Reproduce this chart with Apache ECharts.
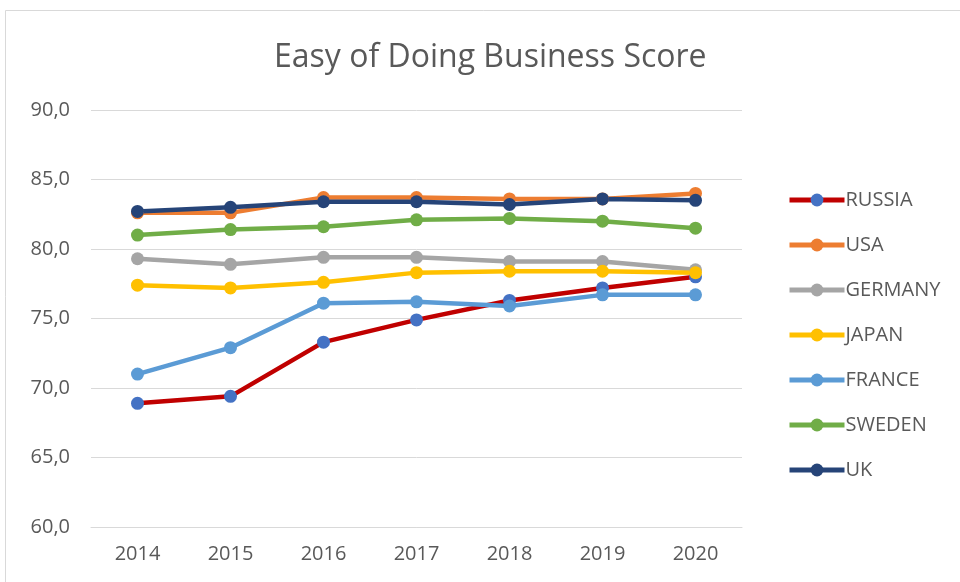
<!DOCTYPE html>
<html>
<head>
<meta charset="utf-8">
<script src="https://cdn.jsdelivr.net/npm/echarts@6/dist/echarts.min.js"></script>
<style>
html,body{margin:0;padding:0;background:#fff;}
#chart{width:960px;height:582px;}
</style>
</head>
<body>
<div id="chart"></div>
<script>
// Ease of Doing Business scores by country, 2014–2020
const years = ['2014', '2015', '2016', '2017', '2018', '2019', '2020'];
const russia  = [68.9, 69.4, 73.3, 74.9, 76.3, 77.2, 78.0];
const usa     = [82.6, 82.6, 83.7, 83.7, 83.6, 83.6, 84.0];
const germany = [79.3, 78.9, 79.4, 79.4, 79.1, 79.1, 78.5];
const japan   = [77.4, 77.2, 77.6, 78.3, 78.4, 78.4, 78.3];
const france  = [71.0, 72.9, 76.1, 76.2, 75.9, 76.7, 76.7];
const sweden  = [81.0, 81.4, 81.6, 82.1, 82.2, 82.0, 81.5];
const uk      = [82.7, 83.0, 83.4, 83.4, 83.2, 83.6, 83.5];

const seriesDefs = [
  { name: 'RUSSIA',  data: russia,  line: '#C00000', dot: '#4472C4' },
  { name: 'USA',     data: usa,     line: '#ED7D31', dot: '#ED7D31' },
  { name: 'GERMANY', data: germany, line: '#A5A5A5', dot: '#A5A5A5' },
  { name: 'JAPAN',   data: japan,   line: '#FFC000', dot: '#FFC000' },
  { name: 'FRANCE',  data: france,  line: '#5B9BD5', dot: '#5B9BD5' },
  { name: 'SWEDEN',  data: sweden,  line: '#70AD47', dot: '#70AD47' },
  { name: 'UK',      data: uk,      line: '#264478', dot: '#264478' }
];

const textColor = '#595959';
const font = 'Open Sans';

const chart = echarts.init(document.getElementById('chart'), null, { renderer: 'canvas' });
chart.setOption({
  backgroundColor: '#fff',
  animation: false,
  graphic: [{
    type: 'rect',
    shape: { x: 5.5, y: 10.5, width: 1000, height: 700 },
    style: { fill: 'none', stroke: '#D9D9D9', lineWidth: 1 },
    silent: true
  }],
  title: {
    text: 'Easy of Doing Business Score',
    left: 269, top: 37,
    textStyle: { color: textColor, fontFamily: font, fontWeight: 'normal', fontSize: 32 }
  },
  legend: {
    orient: 'vertical',
    left: 782, top: 185,
    itemWidth: 55, itemHeight: 16, itemGap: 25,
    lineStyle: { width: 5 },
    textStyle: { color: textColor, fontFamily: font, fontSize: 20, lineHeight: 20, padding: [0, 0, 0, -4] },
    data: seriesDefs.map(s => s.name)
  },
  grid: { left: 91, right: 218, top: 110, bottom: 55, containLabel: false },
  xAxis: {
    type: 'category',
    data: years,
    boundaryGap: true,
    axisLine: { lineStyle: { color: '#D9D9D9', width: 1 } },
    axisTick: { show: false },
    axisLabel: { color: textColor, fontFamily: font, fontSize: 20, margin: 17 }
  },
  yAxis: {
    type: 'value',
    min: 60, max: 90, interval: 5,
    axisLine: { show: false },
    axisTick: { show: false },
    splitLine: { lineStyle: { color: '#D9D9D9', width: 1 } },
    axisLabel: {
      color: textColor, fontFamily: font, fontSize: 20, margin: 21,
      formatter: v => v.toFixed(1).replace('.', ',')
    }
  },
  series: seriesDefs.map(s => ({
    name: s.name,
    type: 'line',
    data: s.data,
    symbol: 'circle',
    symbolSize: 13,
    lineStyle: { color: s.line, width: 4.5 },
    itemStyle: { color: s.dot, borderWidth: 0 },
    emphasis: { disabled: true }
  }))
});
</script>
</body>
</html>
